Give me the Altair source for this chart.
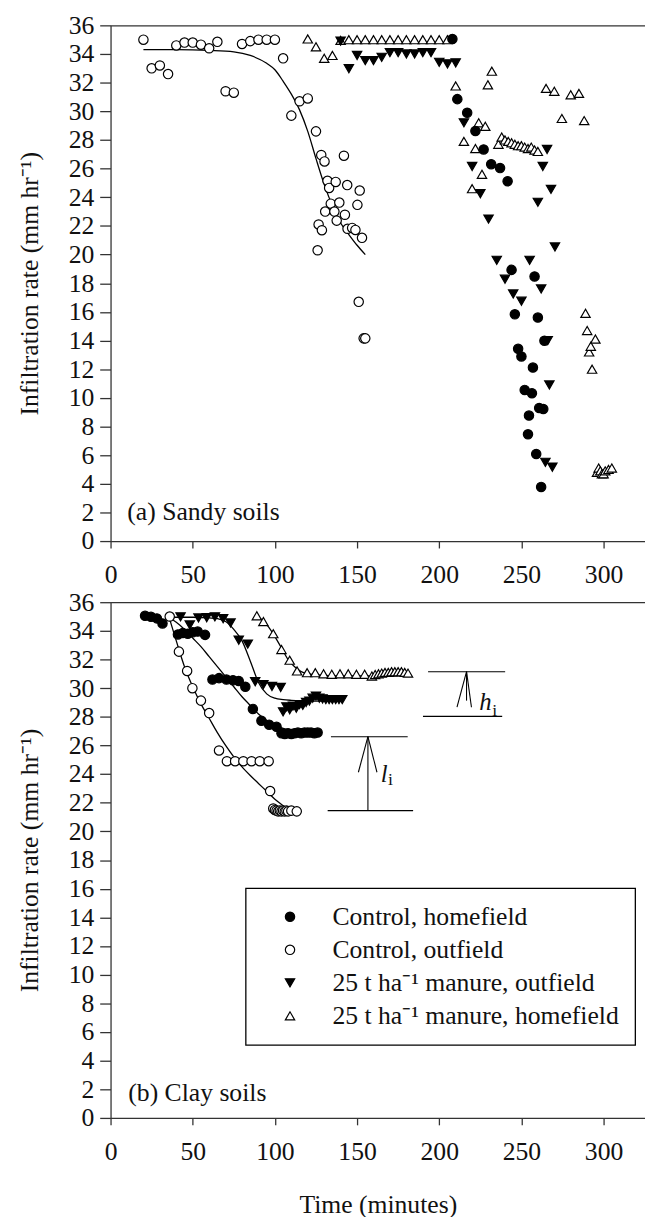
import altair as alt
import pandas as pd

FONT = "Liberation Serif"
INK = "#111111"

SERIES = ["Control, homefield", "Control, outfield",
          "25 t ha\u207b\u00b9 manure, outfield", "25 t ha\u207b\u00b9 manure, homefield"]
SHAPES = ["circle", "circle", "triangle-down", "triangle-up"]
FILLS = ["black", "white", "black", "white"]
STROKES = ["black", "black", "black", "black"]

x_ticks = [0, 50, 100, 150, 200, 250, 300]
y_ticks = list(range(0, 37, 2))

# ---------------- (a) Sandy soils ----------------
a_ctrl_out_t = [20, 25, 30, 35, 40, 45, 50, 55, 60, 65, 70, 75, 80, 85, 90, 95, 100, 105, 110, 115,
                120, 125, 126, 126.6, 128.6, 128.2, 130.2, 130.6, 132, 133, 134, 136.2, 137, 137.6, 139.2,
                142, 142.6, 144, 144.2, 147, 149, 150.2, 151.6, 153, 151, 154, 155]
a_ctrl_out_y = [35.0, 33.0, 33.2, 32.6, 34.6, 34.8, 34.8, 34.65, 34.4, 34.85, 31.4, 31.3, 34.7, 34.9, 35.0,
                35.0, 35.0, 33.7, 29.7, 30.7, 30.9, 28.6, 20.3, 22.1, 21.7, 26.95, 26.5, 23.0, 25.15, 24.65,
                23.55, 23.0, 25.07, 22.37, 23.63, 26.9, 22.78, 24.85, 21.8, 21.86, 21.72, 23.47, 24.47,
                21.17, 16.7, 14.15, 14.15]

a_man_home_t = [120, 125, 130, 135, 140, 145, 150, 155, 160, 165, 170, 175, 180, 185, 190, 195, 200, 205,
                210, 215, 220, 222, 224, 226, 228, 229.6, 232,
                236, 238, 240, 242, 244, 246, 248, 250, 252, 254, 256, 258, 260,
                265, 270, 274.6, 280, 285, 288.2,
                289, 290, 291.2, 292.2, 293, 295,
                296, 297, 298, 299, 300, 301, 303, 305]
a_man_home_y = [35.05, 34.5, 33.7, 33.9, 34.95, 35, 35, 35, 35, 35, 35, 35, 35, 35, 35, 35, 35, 35,
                31.77, 27.9, 24.6, 27.4, 29.2, 25.6, 28.95, 31.85, 32.8,
                27.7, 28.2, 28.0, 27.9, 27.8, 27.7, 27.6, 27.6, 27.5, 27.4, 27.5, 27.3, 27.2,
                31.6, 31.4, 29.5, 31.15, 31.25, 29.35,
                15.9, 14.7, 13.2, 13.6, 12.0, 14.1,
                4.8, 5.1, 4.9, 4.7, 4.7, 4.9, 5.0, 5.1]

a_man_out_t = [140, 145, 150, 155, 160, 165, 170, 175, 180, 185, 190, 195, 200, 205, 210,
               215, 220, 225, 230, 235, 240, 245, 250, 255, 260,
               262, 263, 264.6, 265.6, 266, 267, 268, 268.8, 270.4]
a_man_out_y = [34.9, 32.97, 33.9, 33.54, 33.54, 33.77, 34.1, 34.1, 34.0, 34.0, 34.1, 34.1, 33.42, 33.31, 33.38,
               29.2, 26.15, 24.25, 22.48, 19.6, 18.28, 17.25, 16.74, 19.6, 23.65,
               17.6, 26.15, 5.5, 27.34, 14.0, 10.9, 24.55, 5.16, 20.53]

a_ctrl_home_t = [208, 211, 217, 222, 227, 231.6, 237, 241.6, 244, 246, 248, 250, 252, 254, 254.6, 256.4,
                 257, 258, 259, 260, 260.8, 262, 263.3, 264]
a_ctrl_home_y = [35.05, 30.85, 29.9, 28.63, 27.34, 26.31, 26.04, 25.12, 18.93, 15.83, 13.42, 12.89, 10.55,
                 7.45, 8.76, 10.32, 12.11, 18.47, 6.08, 15.6, 9.29, 3.78, 9.22, 13.99]

a_fit_t = [20, 40, 60, 75, 85, 95, 100, 105, 110, 115, 120, 125, 130, 135, 140, 145, 150, 155]
a_fit_y = [34.3, 34.3, 34.25, 34.15, 33.9, 33.35, 32.9, 32.1, 31.2, 30.1, 28.6, 26.7, 24.9, 23.4, 22.2,
           21.4, 20.65, 20.0]

# ---------------- (b) Clay soils ----------------
b_ctrl_home_t = [21, 24.6, 28.2, 31.6, 41, 44, 47, 50, 53, 57.5, 62, 66, 70.5, 74.5, 78, 82,
                 86.6, 91.8, 96.5, 101, 104, 106, 108, 110, 112, 114, 116, 118, 120, 122, 124, 126]
b_ctrl_home_y = [35.05, 34.98, 34.87, 34.52, 33.75, 33.85, 33.8, 33.9, 33.95, 33.72, 30.6, 30.7, 30.6, 30.55,
                 30.5, 30.1, 28.55, 27.72, 27.45, 27.3, 26.85, 26.8, 26.85, 26.8, 26.85, 26.9, 26.85, 26.9,
                 26.9, 26.9, 26.85, 26.9]

b_ctrl_out_t = [36, 41.6, 46.6, 49.8, 55, 60, 66, 70.8, 75.8, 80.8, 85.8, 90.8, 96.2, 97.1,
                99, 100, 101, 102, 103, 104, 105, 106, 107, 108, 110, 113.3]
b_ctrl_out_y = [35.0, 32.55, 31.2, 30.0, 29.13, 28.26, 25.65, 24.9, 24.9, 24.9, 24.9, 24.9, 24.9, 22.82,
                21.6, 21.5, 21.45, 21.4, 21.45, 21.4, 21.45, 21.4, 21.45, 21.4, 21.45, 21.4]

b_man_out_t = [42.6, 48.2, 53.5, 58.5, 63.5, 68.5, 73, 78, 83.5, 88, 93, 98.2, 103.5,
               105, 107, 109, 111, 113, 115, 117, 119, 121, 123, 125, 127, 129, 131, 133, 135, 137, 139, 141]
b_man_out_y = [34.98, 34.41, 34.9, 34.92, 34.98, 34.85, 34.55, 33.35, 33.08, 30.45, 30.25, 30.12, 30.05,
               28.35, 28.7, 28.5, 28.75, 28.6, 28.85, 28.8, 29.0, 29.1, 29.3, 29.45, 29.3, 29.25, 29.2,
               29.2, 29.2, 29.2, 29.2, 29.2]

b_man_home_t = [89, 93, 99, 104, 109, 113.5, 119.6, 124.6, 129.6, 134.6, 139.6, 144.6, 149.6, 154.6,
                159, 161, 163, 165, 167, 169, 171, 173, 175, 177, 179, 181]
b_man_home_y = [35.05, 34.65, 33.8, 32.7, 31.95, 31.2, 31.08, 31.08, 31.0, 30.97, 31.0, 31.0, 30.97, 30.97,
                30.85, 30.95, 31.0, 31.05, 31.1, 31.1, 31.15, 31.15, 31.15, 31.15, 31.1, 31.05]

b_fit_ctrl_home_t = [36, 40, 45, 50, 55, 60, 65, 70, 75, 80, 85, 90, 95, 100, 105, 110, 115, 120, 127]
b_fit_ctrl_home_y = [34.9, 34.6, 34.1, 33.5, 32.9, 32.2, 31.5, 30.8, 30.1, 29.4, 28.8, 28.2, 27.75, 27.4,
                     27.2, 27.05, 26.98, 26.93, 26.9]
b_fit_ctrl_out_t = [36, 40, 45, 50, 55, 60, 65, 70, 75, 80, 85, 90, 95, 100, 105, 108]
b_fit_ctrl_out_y = [34.8, 33.3, 31.5, 30.1, 28.9, 27.9, 26.9, 26.0, 25.2, 24.5, 23.9, 23.35, 22.8, 22.25,
                    21.8, 21.5]
b_fit_man_out_t = [38, 50, 60, 65, 70, 75, 80, 85, 90, 95, 100, 105, 110, 120, 130, 140]
b_fit_man_out_y = [34.95, 34.95, 34.9, 34.85, 34.65, 34.1, 33.3, 31.9, 30.4, 29.6, 29.3, 29.2, 29.15,
                   29.1, 29.1, 29.1]
b_fit_man_home_t = [88, 92, 96, 100, 104, 108, 112, 116, 120, 130, 140, 150, 160, 170, 180]
b_fit_man_home_y = [35.0, 34.8, 34.3, 33.6, 32.8, 32.0, 31.5, 31.15, 31.0, 30.9, 30.85, 30.85, 30.85,
                    30.85, 30.9]

# bracket annotations (data units): x1, y1 -> x2, y2
seg_x1 = [193.2, 190.1, 216.6, 210.8, 219.6, 134.1, 132.1, 156.6, 150.8, 162.1]
seg_y1 = [31.15, 28.03, 29.13, 28.67, 28.67, 26.61, 21.45, 21.45, 24.13, 24.13]
seg_x2 = [240.1, 238.3, 216.6, 216.6, 216.6, 180.8, 184.1, 156.6, 156.6, 156.6]
seg_y2 = [31.15, 28.03, 31.15, 31.15, 31.15, 26.61, 21.45, 26.61, 26.61, 26.61]

sym_txt = ["h", "l"]
sym_t = [224.4, 164.4]
sym_y = [28.51, 23.42]
sub_txt = ["i", "i"]
sub_t = [232.2, 168.8]
sub_y = [28.03, 23.21]

panel_txt = ["(a) Sandy soils", "(b) Clay soils"]
panel_t = [10.2, 10.8]
panel_y = [2.05, 1.75]


def rows(series, ts, ys):
    return [{"series": series, "t": a, "y": b} for a, b in zip(ts, ys)]


pts_a = pd.DataFrame(rows(SERIES[3], a_man_home_t, a_man_home_y) + rows(SERIES[2], a_man_out_t, a_man_out_y)
                     + rows(SERIES[0], a_ctrl_home_t, a_ctrl_home_y) + rows(SERIES[1], a_ctrl_out_t, a_ctrl_out_y))
pts_b = pd.DataFrame(rows(SERIES[3], b_man_home_t, b_man_home_y) + rows(SERIES[2], b_man_out_t, b_man_out_y)
                     + rows(SERIES[0], b_ctrl_home_t, b_ctrl_home_y) + rows(SERIES[1], b_ctrl_out_t, b_ctrl_out_y))
fit_a = pd.DataFrame(rows("fit", a_fit_t, a_fit_y))
fit_b = pd.DataFrame(rows("ch", b_fit_ctrl_home_t, b_fit_ctrl_home_y) + rows("co", b_fit_ctrl_out_t, b_fit_ctrl_out_y)
                     + rows("mo", b_fit_man_out_t, b_fit_man_out_y) + rows("mh", b_fit_man_home_t, b_fit_man_home_y))
segs = pd.DataFrame({"x1": seg_x1, "y1": seg_y1, "x2": seg_x2, "y2": seg_y2})
syms = pd.DataFrame({"t": sym_t, "y": sym_y, "txt": sym_txt})
subs = pd.DataFrame({"t": sub_t, "y": sub_y, "txt": sub_txt})

W, H = 542, 523
xscale = alt.Scale(domain=[0, W / 1.6667], nice=False, zero=False)
yscale = alt.Scale(domain=[0, 36], nice=False, zero=False)

yaxis = alt.Axis(values=y_ticks, title="Infiltration rate (mm hr\u207b\u00b9)", tickSize=11, labelPadding=6,
                 titlePadding=26, grid=False, labelFlush=False, labelOverlap=False)
top_axis = alt.Axis(orient="top", labels=False, ticks=False, title=None, grid=False, domain=True)

legend_b = alt.Legend(orient="none", legendX=137, legendY=290, title=None, labelFont=FONT, labelFontSize=26,
                      labelColor=INK, symbolSize=90, symbolStrokeColor="black", symbolStrokeWidth=1.2,
                      padding=16, rowPadding=7.5, symbolOffset=16, labelOffset=30, labelLimit=500,
                      strokeColor="black")


def panel(pts, fits, idx, xtitle, legend, with_brackets):
    xaxis = alt.Axis(values=x_ticks, title=xtitle, tickSize=7, labelPadding=14, titlePadding=28,
                     grid=False, labelFlush=False, labelOverlap=False)
    points = alt.Chart(pts).mark_point(filled=True, strokeWidth=1.2, size=90, opacity=1).encode(
        x=alt.X("t:Q", scale=xscale, axis=xaxis),
        y=alt.Y("y:Q", scale=yscale, axis=yaxis),
        shape=alt.Shape("series:N", scale=alt.Scale(domain=SERIES, range=SHAPES), legend=legend),
        fill=alt.Fill("series:N", scale=alt.Scale(domain=SERIES, range=FILLS), legend=legend),
        stroke=alt.Stroke("series:N", scale=alt.Scale(domain=SERIES, range=STROKES), legend=legend),
    )
    lines = alt.Chart(fits).mark_line(color="black", strokeWidth=1.3, interpolate="monotone").encode(
        x=alt.X("t:Q", scale=xscale, axis=top_axis),
        y=alt.Y("y:Q", scale=yscale, axis=yaxis),
        detail="series:N",
    )
    lab = pd.DataFrame({"t": [panel_t[idx]], "y": [panel_y[idx]], "txt": [panel_txt[idx]]})
    label = alt.Chart(lab).mark_text(align="left", baseline="middle", font=FONT, fontSize=26, color=INK).encode(
        x=alt.X("t:Q", scale=xscale, axis=None),
        y=alt.Y("y:Q", scale=yscale, axis=yaxis),
        text="txt:N",
    )
    layers = [lines, points, label]
    if with_brackets:
        rules = alt.Chart(segs).mark_rule(color="black", strokeWidth=1.1).encode(
            x=alt.X("x1:Q", scale=xscale, axis=None), x2="x2:Q",
            y=alt.Y("y1:Q", scale=yscale, axis=yaxis), y2="y2:Q",
        )
        t1 = alt.Chart(syms).mark_text(align="left", baseline="alphabetic", font=FONT, fontSize=25,
                                       fontStyle="italic", color=INK).encode(
            x=alt.X("t:Q", scale=xscale, axis=None), y=alt.Y("y:Q", scale=yscale, axis=yaxis), text="txt:N")
        t2 = alt.Chart(subs).mark_text(align="left", baseline="alphabetic", font=FONT, fontSize=18,
                                       color=INK).encode(
            x=alt.X("t:Q", scale=xscale, axis=None), y=alt.Y("y:Q", scale=yscale, axis=yaxis), text="txt:N")
        layers += [rules, t1, t2]
    return alt.layer(*layers).resolve_axis(x="independent").properties(width=W, height=H)


panel_a = panel(pts_a, fit_a, 0, None, None, False)
panel_b = panel(pts_b, fit_b, 1, "Time (minutes)", legend_b, True)

chart = alt.vconcat(panel_a, panel_b, spacing=62, bounds="flush").resolve_scale(
    shape="independent", fill="independent", stroke="independent"
).properties(
    padding={"left": 9, "top": -4, "right": 0, "bottom": 0}
).configure_view(stroke=None).configure_axis(
    domainColor="#333333", domainWidth=1.3, tickColor="#333333", tickWidth=1.3,
    labelFont=FONT, labelFontSize=26, labelColor=INK,
    titleFont=FONT, titleFontSize=26, titleFontWeight="normal", titleColor=INK,
).configure_legend(strokeWidth=1.3)

chart.save("out.html", embed_options={"renderer": "svg", "actions": False})
